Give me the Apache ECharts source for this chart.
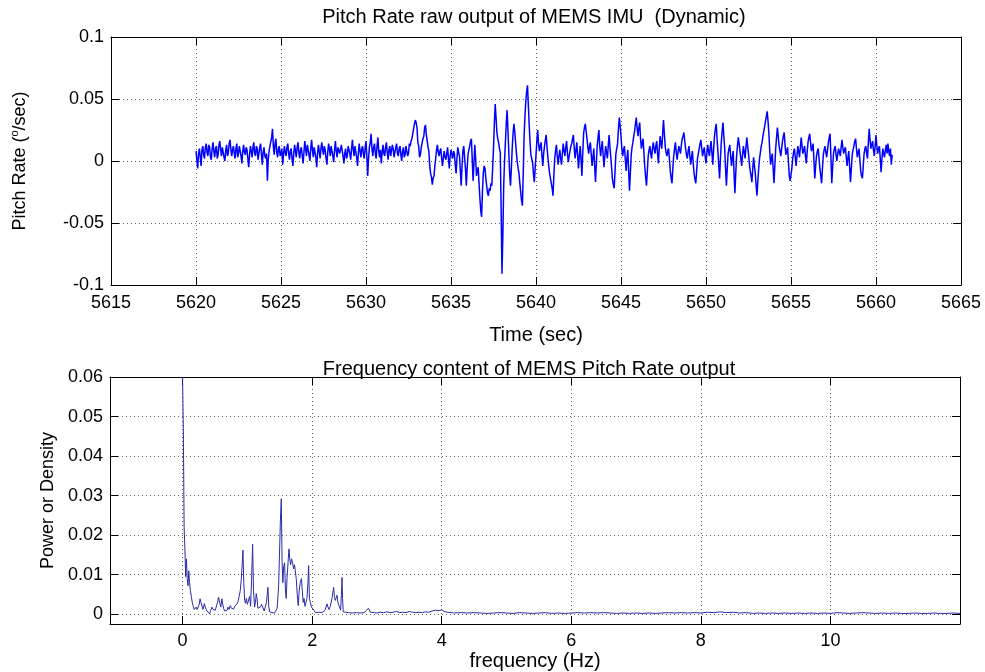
<!DOCTYPE html>
<html>
<head>
<meta charset="utf-8">
<script src="https://cdn.jsdelivr.net/npm/echarts@6/dist/echarts.min.js"></script>
<style>html,body{margin:0;padding:0;background:#fff;}#c{width:985px;height:672px;}</style>
</head>
<body>
<div id="c"></div>
<script>
// ---- Top plot: pitch rate samples (deg/sec), start time and sample step ----
const timeStart = 5620.0;
const timeStep = 0.05;
const pitchRate = [
0.008,0.001,-0.006,0.006,0.010,0.003,-0.004,0.009,0.012,0.005,0.002,0.011,0.014,0.007,0.004,0.013,0.011,0.003,0.001,0.010,
0.015,0.008,0.003,0.010,0.012,0.002,0.005,0.013,0.016,0.009,0.004,0.011,0.010,0.003,0.000,0.009,0.013,0.004,0.006,0.014,
0.017,0.010,0.004,0.009,0.012,0.006,0.002,0.010,0.014,0.003,0.006,0.012,0.011,0.004,-0.002,0.008,0.013,0.007,0.005,0.011,
0.009,0.002,-0.005,0.005,0.012,0.008,0.003,0.011,0.015,0.006,0.004,0.012,0.010,0.001,0.002,0.011,0.014,0.005,-0.003,0.007,
0.011,0.004,0.002,0.006,-0.016,0.001,0.008,0.012,0.013,0.019,0.026,0.012,0.005,0.014,0.018,0.007,0.003,0.010,0.012,0.004,
0.006,0.010,-0.003,0.005,0.012,0.007,0.004,0.011,0.014,0.006,0.001,0.008,0.010,0.002,-0.004,0.006,0.013,0.008,0.003,0.011,
0.015,0.007,0.002,0.009,0.011,0.004,-0.002,0.007,0.016,0.010,0.004,0.013,0.012,0.005,0.000,0.010,0.017,0.009,0.003,0.011,
0.010,0.003,-0.005,0.006,0.013,0.008,0.002,0.010,0.015,0.009,0.005,0.012,0.009,0.002,-0.003,0.007,0.014,0.010,0.004,0.012,
0.011,0.004,-0.001,0.009,0.016,0.008,0.003,0.011,0.012,0.006,0.005,0.013,0.014,0.004,-0.002,0.006,0.010,0.002,0.004,0.012,
0.013,0.006,0.001,0.010,0.017,0.009,0.004,0.012,0.011,0.003,-0.004,0.006,0.014,0.008,0.003,0.010,0.012,0.005,0.002,0.011,
0.016,0.004,-0.012,0.002,0.011,0.015,0.022,0.010,0.004,0.011,0.014,0.006,0.002,0.012,0.019,0.008,0.003,0.009,-0.002,0.007,
0.013,0.006,0.004,0.011,0.015,0.007,0.001,0.009,0.012,0.004,0.005,0.013,0.010,0.003,0.002,0.011,0.014,0.006,0.004,0.010,
0.012,0.005,0.000,0.008,0.011,0.003,0.005,0.012,0.013,0.004,0.006,0.014,0.012,0.016,0.018,0.022,0.026,0.030,0.033,0.031,
0.027,0.015,0.012,0.003,0.005,0.011,0.010,0.018,0.020,0.027,0.029,0.021,0.022,0.011,0.008,-0.004,-0.010,-0.013,-0.019,-0.014,
-0.012,-0.004,0.002,0.009,0.013,0.007,0.004,0.008,0.010,0.002,-0.004,0.003,0.008,0.003,0.001,0.006,0.011,0.002,-0.006,0.004,
0.009,0.005,0.002,0.008,0.006,-0.003,-0.010,0.002,0.011,0.007,0.004,-0.008,-0.020,-0.004,0.008,0.012,0.011,-0.006,-0.020,-0.006,
0.005,0.009,0.012,0.016,0.018,0.001,-0.016,-0.002,0.013,0.002,-0.012,-0.008,-0.005,-0.018,-0.030,-0.040,-0.045,-0.025,-0.010,-0.004,
-0.006,-0.014,-0.020,-0.026,-0.028,-0.022,-0.024,-0.018,-0.020,-0.006,0.010,0.030,0.046,0.035,0.023,0.018,0.015,0.010,0.007,-0.040,
-0.091,-0.060,-0.020,0.000,0.015,0.030,0.041,0.025,0.007,-0.010,-0.020,-0.006,0.010,0.022,0.030,0.024,0.015,0.006,-0.001,-0.006,
-0.010,-0.018,-0.025,-0.032,-0.036,-0.010,0.020,0.036,0.048,0.056,0.061,0.045,0.029,0.015,0.005,0.002,-0.001,-0.010,-0.017,-0.006,
0.005,0.016,0.025,0.014,0.008,0.012,0.015,0.004,-0.004,0.006,0.012,0.017,0.021,0.011,0.003,-0.004,-0.010,-0.014,-0.018,-0.022,
-0.028,-0.012,0.002,0.008,0.013,0.004,-0.003,0.004,0.009,0.002,-0.003,0.006,0.014,0.008,0.004,0.011,0.016,0.006,-0.001,0.004,
0.008,0.012,0.014,0.018,0.021,0.010,0.002,0.009,0.015,0.004,-0.006,0.004,0.012,0.001,-0.012,0.006,0.022,0.027,0.030,0.024,
0.018,0.011,0.006,0.012,0.015,0.005,-0.004,0.003,0.010,-0.004,-0.017,-0.002,0.012,0.019,0.025,0.012,0.004,0.010,0.016,0.005,
-0.005,0.004,0.012,0.007,0.002,0.012,0.021,0.011,0.003,-0.006,-0.015,-0.019,-0.022,-0.008,0.006,0.010,0.014,0.026,0.035,0.028,
0.020,0.010,0.004,0.009,0.012,0.002,-0.008,0.002,0.009,-0.008,-0.024,-0.010,0.005,0.011,0.015,0.020,0.024,0.030,0.035,0.026,
0.020,0.027,0.031,0.018,0.010,0.015,0.018,0.006,-0.005,-0.013,-0.020,-0.008,0.004,0.009,0.012,0.006,0.002,0.010,0.015,0.010,
0.006,0.012,0.016,0.006,-0.002,0.010,0.020,0.014,0.010,0.022,0.033,0.022,0.012,0.007,0.004,0.008,0.010,0.001,-0.008,-0.014,
-0.018,-0.006,0.004,0.010,0.015,0.007,0.001,0.007,0.012,0.009,0.006,0.013,0.018,0.020,0.023,0.016,0.010,0.005,0.002,0.008,
0.012,0.004,-0.003,0.003,0.008,-0.002,-0.010,-0.015,-0.018,-0.008,0.002,0.006,0.010,0.014,0.017,0.010,0.004,0.008,0.011,0.004,
-0.002,0.006,0.013,0.008,0.004,0.011,0.016,0.006,-0.003,0.010,0.020,0.026,0.030,0.018,0.008,-0.004,-0.014,0.002,0.015,0.024,
0.031,0.020,0.010,-0.006,-0.020,-0.006,0.006,0.010,0.013,0.004,-0.004,0.003,0.008,-0.010,-0.026,-0.010,0.004,0.012,0.019,0.014,
0.008,0.002,-0.004,0.005,0.012,0.007,0.002,0.011,0.019,0.012,0.006,-0.002,-0.008,-0.012,-0.017,-0.006,0.003,-0.004,-0.010,-0.020,
-0.028,-0.016,-0.006,0.002,0.007,0.012,0.015,0.020,0.024,0.028,0.032,0.036,0.040,0.032,0.022,0.008,-0.003,0.002,0.006,-0.006,
-0.018,-0.004,0.010,0.019,0.027,0.020,0.012,0.008,0.004,0.010,0.016,0.020,0.023,0.013,0.005,0.008,0.011,-0.001,-0.012,-0.016,
-0.017,-0.006,0.002,0.007,0.010,0.003,-0.004,0.004,0.012,0.008,0.003,0.011,0.019,0.012,0.006,0.009,0.012,0.004,-0.002,0.007,
0.015,0.019,0.022,0.015,0.008,0.011,0.014,0.000,-0.014,-0.004,0.004,0.008,0.010,0.002,-0.006,-0.012,-0.018,-0.006,0.005,0.009,
0.012,0.007,0.003,0.009,0.015,0.019,0.022,0.002,-0.018,-0.005,0.006,0.010,0.012,0.005,0.000,0.006,0.010,0.007,0.004,0.011,
0.017,0.011,0.006,0.009,0.011,0.003,-0.004,0.003,0.008,-0.005,-0.017,-0.006,0.005,0.009,0.012,0.016,0.018,0.010,0.003,0.007,
0.010,0.001,-0.008,-0.012,-0.014,-0.004,0.006,0.010,0.012,0.006,0.002,0.015,0.026,0.017,0.010,0.013,0.016,0.009,0.004,0.012,
0.021,0.012,0.006,0.010,0.012,0.002,-0.009,0.002,0.010,0.006,0.003,0.009,0.013,0.006,0.014,0.008,0.004,0.010,-0.003,0.005
];

// ---- Bottom plot: spectrum ----
const freqHz = [
0.000,0.012,0.024,0.036,0.048,0.060,0.072,0.084,0.096,0.108,0.120,0.135,0.150,0.165,0.180,0.195,0.210,0.225,0.240,0.255,
0.270,0.285,0.300,0.315,0.335,0.355,0.376,0.395,0.417,0.435,0.453,0.470,0.490,0.505,0.520,0.540,0.556,0.575,0.590,0.607,
0.620,0.633,0.650,0.668,0.685,0.700,0.718,0.736,0.755,0.770,0.788,0.805,0.822,0.839,0.856,0.873,0.891,0.905,0.918,0.932,
0.945,0.958,0.970,0.985,1.000,1.015,1.035,1.050,1.065,1.081,1.095,1.112,1.125,1.138,1.150,1.163,1.180,1.200,1.220,1.241,
1.260,1.277,1.295,1.318,1.330,1.345,1.362,1.380,1.400,1.420,1.440,1.460,1.483,1.496,1.510,1.524,1.536,1.548,1.560,1.575,
1.588,1.600,1.612,1.628,1.642,1.655,1.668,1.682,1.699,1.714,1.728,1.740,1.755,1.770,1.785,1.800,1.817,1.835,1.848,1.862,
1.875,1.890,1.905,1.920,1.935,1.946,1.958,1.972,1.990,2.010,2.030,2.050,2.075,2.100,2.126,2.150,2.178,2.200,2.229,2.245,
2.260,2.280,2.306,2.332,2.345,2.358,2.372,2.384,2.398,2.409,2.425,2.440,2.452,2.461,2.470,2.480,2.500,2.520,2.540,2.560,
2.590,2.620,2.650,2.680,2.710,2.740,2.770,2.800,2.830,2.870,2.900,2.930,2.960,3.000,3.050,3.100,3.150,3.200,3.250,3.300,
3.350,3.400,3.450,3.500,3.550,3.600,3.650,3.700,3.750,3.800,3.850,3.900,3.930,3.960,4.000,4.050,4.100,4.150,4.200,4.300,
4.400,4.500,4.600,4.700,4.800,4.900,5.000,5.100,5.200,5.300,5.400,5.500,5.600,5.700,5.800,5.900,6.000,6.100,6.200,6.300,
6.400,6.500,6.600,6.700,6.800,6.900,7.000,7.100,7.200,7.300,7.400,7.500,7.600,7.700,7.800,7.900,8.000,8.100,8.200,8.300,
8.400,8.500,8.600,8.700,8.800,8.900,9.000,9.100,9.200,9.300,9.400,9.500,9.600,9.700,9.800,9.900,10.000,10.100,10.200,10.300,
10.400,10.500,10.600,10.700,10.800,10.900,11.000,11.100,11.200,11.300,11.400,11.500,11.600,11.700,11.800,11.900,12.000
];
const powerDensity = [
0.0600,0.0470,0.0220,0.0165,0.0095,0.0140,0.0090,0.0072,0.0110,0.0080,0.0060,0.0045,0.0030,0.0020,0.0012,0.0010,0.0018,0.0012,0.0016,0.0024,
0.0039,0.0030,0.0020,0.0012,0.0027,0.0016,0.0008,0.0004,0.0001,0.0010,0.0018,0.0012,0.0016,0.0010,0.0014,0.0030,0.0043,0.0028,0.0018,0.0039,
0.0026,0.0015,0.0008,0.0004,0.0010,0.0018,0.0012,0.0022,0.0015,0.0020,0.0013,0.0020,0.0016,0.0026,0.0032,0.0045,0.0060,0.0085,0.0120,0.0162,
0.0080,0.0035,0.0028,0.0040,0.0025,0.0030,0.0045,0.0020,0.0085,0.0177,0.0060,0.0018,0.0030,0.0052,0.0038,0.0015,0.0010,0.0018,0.0025,0.0020,
0.0008,0.0012,0.0030,0.0068,0.0020,0.0006,0.0002,0.0004,0.0001,0.0003,0.0006,0.0015,0.0072,0.0150,0.0236,0.0292,0.0135,0.0080,0.0120,0.0130,
0.0060,0.0040,0.0090,0.0130,0.0165,0.0140,0.0125,0.0140,0.0130,0.0115,0.0125,0.0128,0.0090,0.0050,0.0022,0.0060,0.0080,0.0090,0.0060,0.0030,
0.0040,0.0020,0.0030,0.0040,0.0080,0.0123,0.0040,0.0030,0.0018,0.0022,0.0010,0.0004,0.0003,0.0005,0.0006,0.0004,0.0006,0.0010,0.0026,0.0018,
0.0012,0.0020,0.0040,0.0068,0.0042,0.0035,0.0040,0.0048,0.0030,0.0025,0.0030,0.0010,0.0050,0.0093,0.0040,0.0006,0.0010,0.0005,0.0007,0.0004,
0.0006,0.0003,0.0005,0.0004,0.0006,0.0003,0.0005,0.0004,0.0007,0.0015,0.0005,0.0006,0.0004,0.0003,0.0005,0.0004,0.0006,0.0004,0.0005,0.0007,
0.0004,0.0005,0.0004,0.0007,0.0005,0.0004,0.0005,0.0004,0.0006,0.0005,0.0008,0.0010,0.0013,0.0009,0.0011,0.0006,0.0005,0.0004,0.0003,0.0004,
0.0003,0.0004,0.0003,0.0002,0.0003,0.0004,0.0003,0.0002,0.0004,0.0003,0.0002,0.0003,0.0004,0.0002,0.0003,0.0002,0.0003,0.0004,0.0003,0.0004,
0.0003,0.0004,0.0003,0.0002,0.0003,0.0002,0.0003,0.0002,0.0003,0.0002,0.0003,0.0004,0.0003,0.0004,0.0003,0.0004,0.0003,0.0005,0.0004,0.0006,
0.0004,0.0005,0.0003,0.0004,0.0002,0.0003,0.0002,0.0003,0.0002,0.0003,0.0002,0.0003,0.0002,0.0003,0.0002,0.0003,0.0002,0.0004,0.0003,0.0002,
0.0003,0.0004,0.0003,0.0002,0.0003,0.0002,0.0003,0.0002,0.0002,0.0003,0.0002,0.0002,0.0003,0.0002,0.0002,0.0003,0.0002
];

// ---- Tick labels ----
const timeTicks = [5615,5620,5625,5630,5635,5640,5645,5650,5655,5660,5665];
const rateTicks = [-0.1,-0.05,0,0.05,0.1];
const freqTicks = [0,2,4,6,8,10];
const powerTicks = [0,0.01,0.02,0.03,0.04,0.05,0.06];

const FONT = "'Liberation Sans', Arial, sans-serif";
const TXT = {fontFamily: FONT, fontSize: 18, color: '#000'};
const TXT20 = {fontFamily: FONT, fontSize: 20, color: '#000'};
const AXIS_LINE = {show: true, onZero: false, lineStyle: {color: '#000', width: 1}};
const SPLIT = {show: true, lineStyle: {color: '#666', width: 1, type: [1, 3]}};
const plain = v => String(+v.toFixed(6));

function tickCfg(custom) {
  const t = {show: true, inside: true, length: 8, lineStyle: {color: '#000', width: 1}};
  if (custom) t.customValues = custom;
  return t;
}

const topData = pitchRate.map((v, i) => [+(timeStart + i * timeStep).toFixed(3), v]);
const specData = freqHz.map((f, i) => [f, powerDensity[i]]);

const chart = echarts.init(document.getElementById('c'), null, {renderer: 'canvas'});
chart.setOption({
  animation: false,
  backgroundColor: '#fff',
  title: [
    {text: 'Pitch Rate raw output of MEMS IMU  (Dynamic)', left: 534, top: 7, textAlign: 'center', padding: 0,
     textStyle: Object.assign({}, TXT20, {fontWeight: 'normal'})},
    {text: 'Frequency content of MEMS Pitch Rate output', left: 529, top: 359, textAlign: 'center', padding: 0,
     textStyle: Object.assign({}, TXT20, {fontWeight: 'normal'})}
  ],
  grid: [
    {left: 111, top: 37, width: 850, height: 248, containLabel: false},
    {left: 110, top: 377, width: 850, height: 248, containLabel: false}
  ],
  xAxis: [
    {gridIndex: 0, type: 'value', position: 'bottom', min: timeTicks[0], max: timeTicks[timeTicks.length - 1], interval: 5,
     axisLine: AXIS_LINE, axisTick: tickCfg(), splitLine: SPLIT,
     axisLabel: Object.assign({}, TXT, {margin: 9, formatter: plain}),
     name: 'Time (sec)', nameLocation: 'middle', nameGap: 40, nameTextStyle: TXT20},
    {gridIndex: 0, type: 'value', position: 'top', min: timeTicks[0], max: timeTicks[timeTicks.length - 1], interval: 5,
     axisLine: AXIS_LINE, axisTick: tickCfg(), splitLine: {show: false}, axisLabel: {show: false}},
    {gridIndex: 1, type: 'value', position: 'bottom', min: -1.12, max: 12.0,
     axisLine: AXIS_LINE, axisTick: tickCfg(freqTicks),
     splitLine: Object.assign({customValues: freqTicks}, SPLIT),
     axisLabel: Object.assign({}, TXT, {margin: 8, customValues: freqTicks, formatter: plain}),
     name: 'frequency (Hz)', nameLocation: 'middle', nameGap: 26, nameTextStyle: TXT20},
    {gridIndex: 1, type: 'value', position: 'top', min: -1.12, max: 12.0,
     axisLine: AXIS_LINE, axisTick: tickCfg(freqTicks), splitLine: {show: false}, axisLabel: {show: false}}
  ],
  yAxis: [
    {gridIndex: 0, type: 'value', position: 'left', min: rateTicks[0], max: rateTicks[rateTicks.length - 1], interval: 0.05,
     axisLine: AXIS_LINE, axisTick: tickCfg(), splitLine: SPLIT,
     axisLabel: Object.assign({}, TXT, {margin: 7, formatter: plain}),
     name: '{a|Pitch Rate (}{s|o}{a|/sec)}', nameLocation: 'middle', nameGap: 80, nameRotate: 90,
     nameTextStyle: {rich: {
       a: {fontFamily: FONT, fontSize: 18, color: '#000', lineHeight: 22},
       s: {fontFamily: FONT, fontSize: 11, color: '#000', verticalAlign: 'top', lineHeight: 12}
     }}},
    {gridIndex: 0, type: 'value', position: 'right', min: rateTicks[0], max: rateTicks[rateTicks.length - 1], interval: 0.05,
     axisLine: AXIS_LINE, axisTick: tickCfg(), splitLine: {show: false}, axisLabel: {show: false}},
    {gridIndex: 1, type: 'value', position: 'left', min: -0.0025, max: 0.06,
     axisLine: AXIS_LINE, axisTick: tickCfg(powerTicks),
     splitLine: Object.assign({customValues: powerTicks}, SPLIT),
     axisLabel: Object.assign({}, TXT, {margin: 7, customValues: powerTicks, formatter: plain}),
     name: 'Power or Density', nameLocation: 'middle', nameGap: 52, nameRotate: 90, nameTextStyle: TXT},
    {gridIndex: 1, type: 'value', position: 'right', min: -0.0025, max: 0.06,
     axisLine: AXIS_LINE, axisTick: tickCfg(powerTicks), splitLine: {show: false}, axisLabel: {show: false}}
  ],
  series: [
    {type: 'line', xAxisIndex: 0, yAxisIndex: 0, data: topData, showSymbol: false, symbol: 'none',
     lineStyle: {color: '#0000ff', width: 1.5}, silent: true, sampling: null},
    {type: 'line', xAxisIndex: 2, yAxisIndex: 2, data: specData, showSymbol: false, symbol: 'none', clip: true,
     lineStyle: {color: '#2b2ba6', width: 1}, silent: true}
  ]
});
</script>
</body>
</html>
